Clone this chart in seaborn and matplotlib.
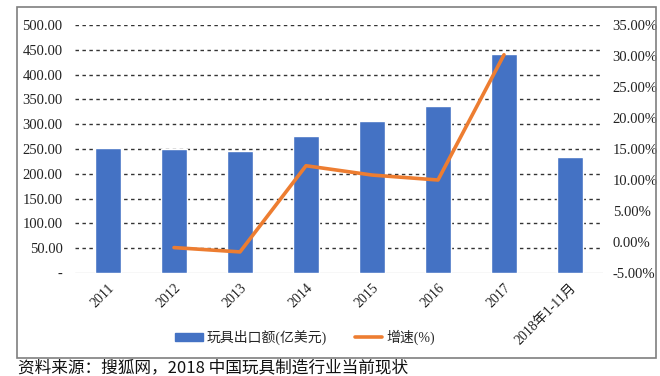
import matplotlib
matplotlib.use("Agg")
import matplotlib.pyplot as plt
import matplotlib.patches as mpatches
from matplotlib.lines import Line2D
import seaborn as sns
import numpy as np
import pandas as pd

categories = ["2011", "2012", "2013", "2014", "2015", "2016", "2017", "2018年1-11月"]
export_values = [252.6, 249.4, 246.6, 276.0, 307.0, 337.0, 441.0, 234.5]
growth_pct = [np.nan, -0.9, -1.6, 12.3, 10.8, 10.0, 30.2, np.nan]
left_ticks = [0, 50, 100, 150, 200, 250, 300, 350, 400, 450, 500]
right_ticks = [-5, 0, 5, 10, 15, 20, 25, 30, 35]
bar_label = "玩具出口额(亿美元)"
line_label = "增速(%)"
source_text = "资料来源：搜狐网，2018 中国玩具制造行业当前现状"

sns.set_theme(style="white")
plt.rcParams["font.family"] = ["Liberation Serif", "Noto Sans CJK SC"]

df = pd.DataFrame({"cat": categories, "value": export_values,
                   "growth": growth_pct, "pos": range(len(categories))})

fig = plt.figure(figsize=(6.6, 3.76), dpi=100)
ax = fig.add_axes([75 / 660, 1 - 273 / 376, (603 - 75) / 660, (273 - 25) / 376])

bar_color = "#4472C4"
line_color = "#ED7D31"

sns.barplot(data=df, x="cat", y="value", color=bar_color, width=0.4,
            saturation=1, ax=ax, zorder=3)
ax.set_xlim(-0.5, len(categories) - 0.5)
ax.set_ylim(0, 500)
ax.set_yticks(left_ticks)
ax.set_yticklabels(["-" if t == 0 else f"{t:.2f}" for t in left_ticks])
for t in left_ticks[1:]:
    ax.axhline(t, color="#333333", lw=1.0, ls=(0, (2.5, 2.5)), zorder=1)
ax.axhline(0, color="#D9D9D9", lw=1.0, zorder=2)
ax.set_xlabel("")
ax.set_ylabel("")
for s in ax.spines.values():
    s.set_visible(False)
ax.tick_params(axis="y", length=0, pad=9, labelsize=10.5, colors="#222222")
ax.tick_params(axis="x", length=0, pad=6, labelsize=10, colors="#222222")
plt.setp(ax.get_xticklabels(), rotation=45, ha="right", va="top",
         rotation_mode="anchor")

ax2 = ax.twinx()
sns.lineplot(data=df, x="pos", y="growth", color=line_color, lw=2.6,
             ax=ax2, zorder=4)
ax2.set_ylim(-5, 35)
ax2.set_yticks(right_ticks)
ax2.set_yticklabels([f"{t:.2f}%" for t in right_ticks])
ax2.set_ylabel("")
ax2.set_xlabel("")
for s in ax2.spines.values():
    s.set_visible(False)
ax2.tick_params(axis="y", length=0, pad=7, labelsize=10.5, colors="#222222")
ax2.grid(False)
ax.set_xlim(-0.5, len(categories) - 0.5)

handles = [mpatches.Patch(color=bar_color, label=bar_label),
           Line2D([0], [0], color=line_color, lw=2.6, label=line_label)]
fig.legend(handles=handles, loc="center", bbox_to_anchor=(305 / 660, 1 - 337 / 376),
           ncol=2, frameon=False, fontsize=10, handlelength=2.0,
           handleheight=0.5, columnspacing=2.0, handletextpad=0.3)

fig.patches.append(mpatches.Rectangle((17 / 660, 1 - 358 / 376), (656 - 17) / 660,
                                      (358 - 7) / 376, transform=fig.transFigure,
                                      fill=False, edgecolor="#7F7F7F", lw=1.2))

fig.text(18 / 660, 1 - 368 / 376, source_text, fontsize=12, va="center", ha="left",
         family=["Noto Sans CJK SC", "DejaVu Sans"], color="#111111")

fig.savefig("out.png", dpi=100)
